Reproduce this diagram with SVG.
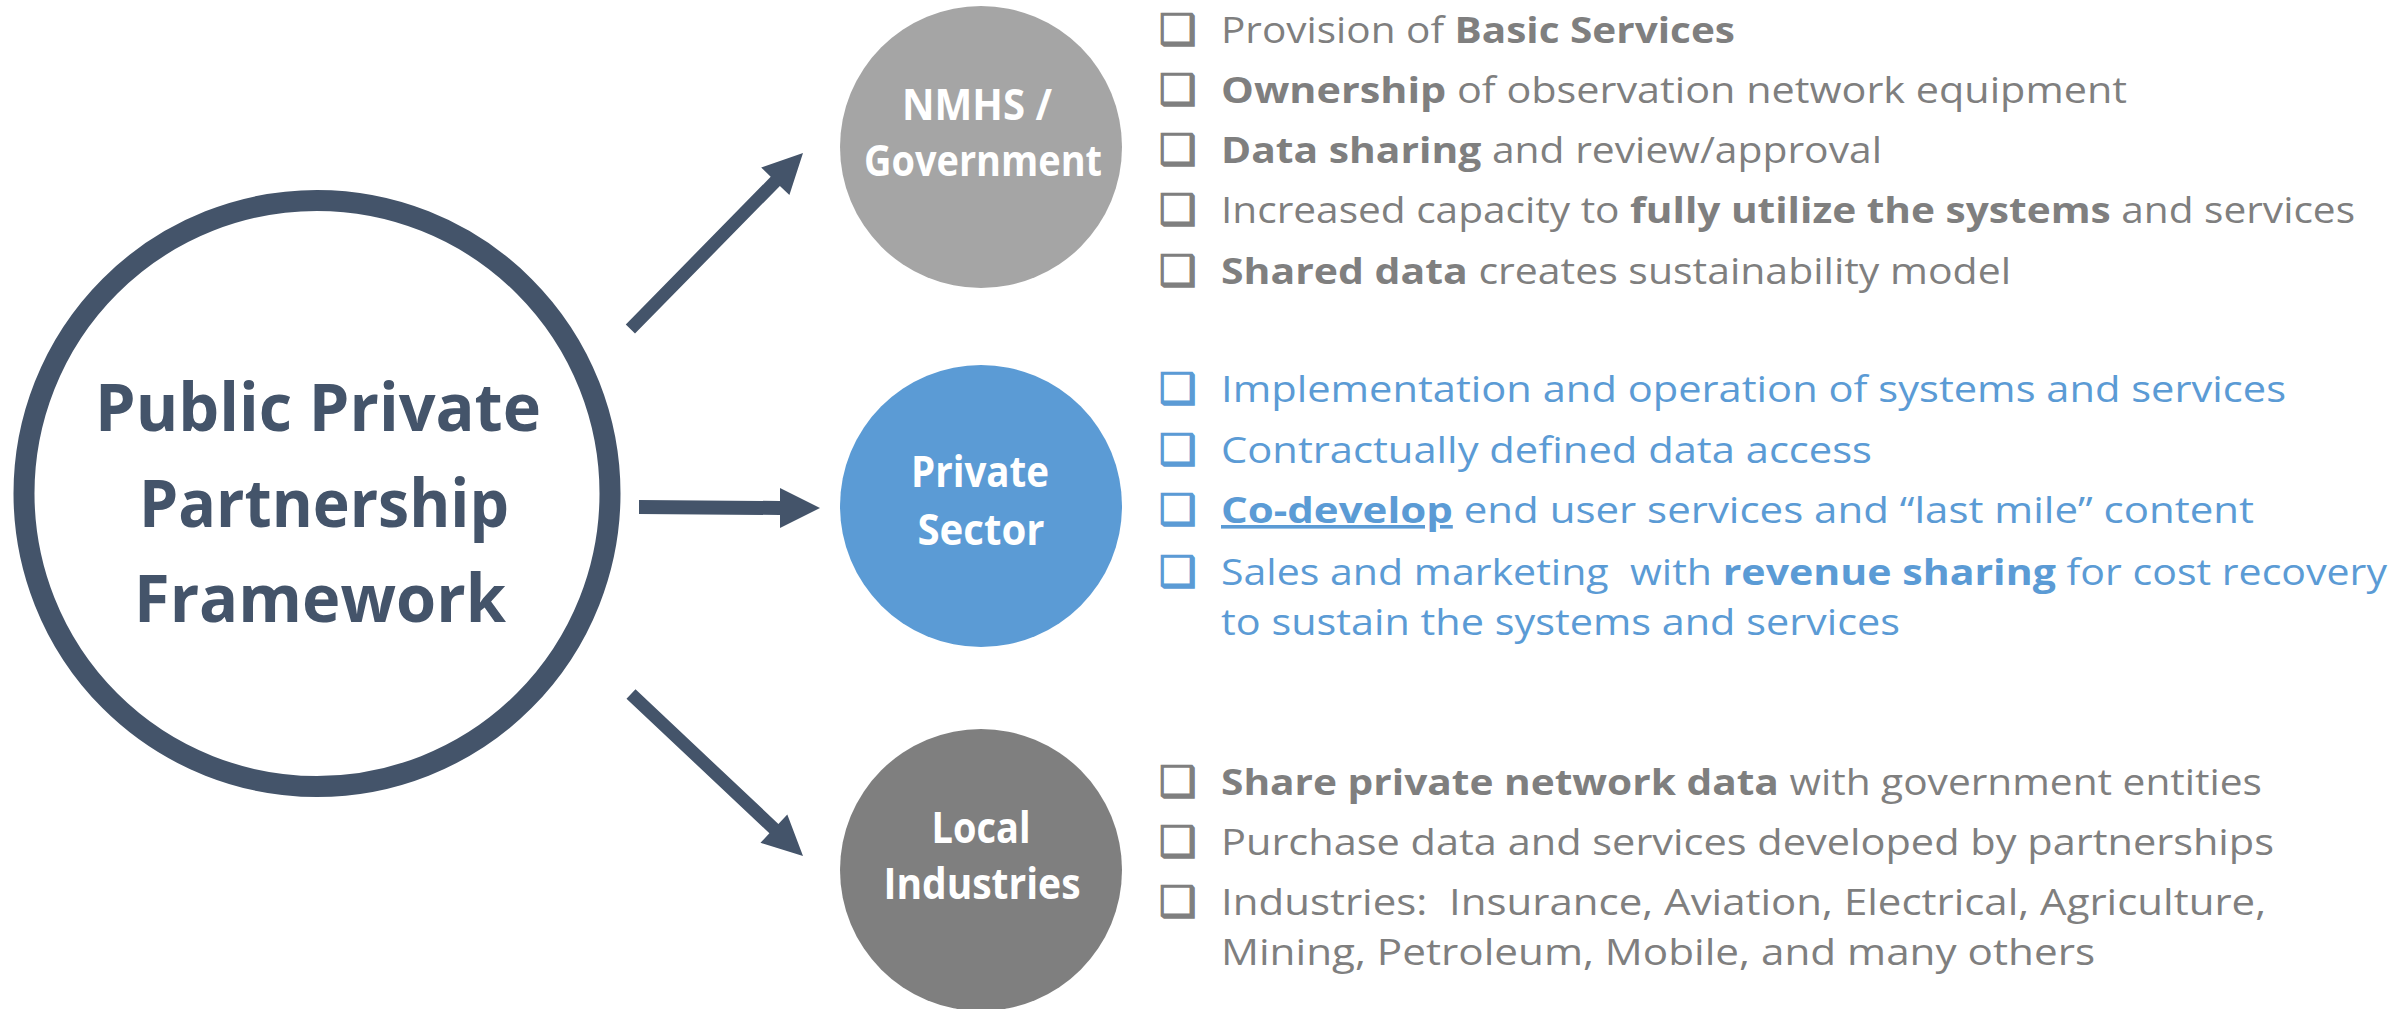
<svg xmlns="http://www.w3.org/2000/svg" width="2408" height="1009" viewBox="0 0 2408 1009">
<style>
  .title { font-family: "Open Sans", "Liberation Sans", sans-serif; font-weight: 700; font-size: 67px; fill: #44546A; text-anchor: middle; }
  .ntxt { font-family: "Open Sans", "Liberation Sans", sans-serif; font-weight: 700; font-size: 43px; fill: #FFFFFF; text-anchor: middle; }
  .item { font-family: "Open Sans", "Liberation Sans", sans-serif; font-size: 36px; }
  .gray { fill: #7F7F7F; }
  .blue { fill: #5B9BD5; }
  .bold { font-weight: 700; }
  .box { font-family: "DejaVu Sans", sans-serif; font-size: 42px; font-weight: 700; stroke-width: 1.4px; }
  .box.gray { stroke: #7F7F7F; }
  .box.blue { stroke: #5B9BD5; }
  .arrow { fill: #44546A; }
</style>
<rect x="0" y="0" width="2408" height="1009" fill="#FFFFFF"/>

<g id="connectors">
  <polygon class="arrow" points="625.8,324.4 770.7,176.8 761.2,167.5 803,153 789.4,195.1 779.9,185.9 635,333.6"/>
  <polygon class="arrow" points="639,500 780,501 780,488 820,508 780,528 780,515 639,514"/>
  <polygon class="arrow" points="626.5,698.7 769.4,833.3 760.5,842.8 803,856 787.3,814.4 778.4,823.9 635.5,689.3"/>
</g>

<g id="node-ppp">
  <circle cx="317" cy="493.5" r="293" fill="#FFFFFF" stroke="#44546A" stroke-width="21"/>
  <text class="title" x="318" y="431" textLength="446" lengthAdjust="spacingAndGlyphs">Public Private</text>
  <text class="title" x="324" y="527" textLength="370" lengthAdjust="spacingAndGlyphs">Partnership</text>
  <text class="title" x="320" y="622" textLength="372" lengthAdjust="spacingAndGlyphs">Framework</text>
</g>

<g id="node-nmhs">
  <circle cx="981" cy="147" r="141" fill="#A5A5A5"/>
  <text class="ntxt" x="977" y="120" textLength="150" lengthAdjust="spacingAndGlyphs">NMHS /</text>
  <text class="ntxt" x="983" y="176" textLength="238" lengthAdjust="spacingAndGlyphs">Government</text>
</g>

<g id="node-private">
  <circle cx="981" cy="506" r="141" fill="#5B9BD5"/>
  <text class="ntxt" x="980" y="487" textLength="138" lengthAdjust="spacingAndGlyphs">Private</text>
  <text class="ntxt" x="981" y="545" textLength="127" lengthAdjust="spacingAndGlyphs">Sector</text>
</g>

<g id="node-local">
  <circle cx="981" cy="870" r="141" fill="#7F7F7F"/>
  <text class="ntxt" x="981" y="843" textLength="99" lengthAdjust="spacingAndGlyphs">Local</text>
  <text class="ntxt" x="982" y="899" textLength="197" lengthAdjust="spacingAndGlyphs">Industries</text>
</g>

<g id="list-nmhs">
  <text class="box gray" x="1159" y="44">❑</text>
  <text class="item gray" x="1221" y="43" textLength="514" lengthAdjust="spacingAndGlyphs">Provision of <tspan class="bold">Basic Services</tspan></text>
  <text class="box gray" x="1159" y="104">❑</text>
  <text class="item gray" x="1221" y="103" textLength="906" lengthAdjust="spacingAndGlyphs"><tspan class="bold">Ownership</tspan> of observation network equipment</text>
  <text class="box gray" x="1159" y="164">❑</text>
  <text class="item gray" x="1221" y="163" textLength="661" lengthAdjust="spacingAndGlyphs"><tspan class="bold">Data sharing</tspan> and review/approval</text>
  <text class="box gray" x="1159" y="224">❑</text>
  <text class="item gray" x="1221" y="223" textLength="1134" lengthAdjust="spacingAndGlyphs">Increased capacity to <tspan class="bold">fully utilize the systems</tspan> and services</text>
  <text class="box gray" x="1159" y="285">❑</text>
  <text class="item gray" x="1221" y="284" textLength="790" lengthAdjust="spacingAndGlyphs"><tspan class="bold">Shared data</tspan> creates sustainability model</text>
</g>

<g id="list-private">
  <text class="box blue" x="1159" y="403">❑</text>
  <text class="item blue" x="1221" y="402" textLength="1065" lengthAdjust="spacingAndGlyphs">Implementation and operation of systems and services</text>
  <text class="box blue" x="1159" y="464">❑</text>
  <text class="item blue" x="1221" y="463" textLength="651" lengthAdjust="spacingAndGlyphs">Contractually defined data access</text>
  <text class="box blue" x="1159" y="524">❑</text>
  <text class="item blue" x="1221" y="523" textLength="1033" lengthAdjust="spacingAndGlyphs"><tspan class="bold" text-decoration="underline">Co-develop</tspan> end user services and “last mile” content</text>
  <text class="box blue" x="1159" y="586">❑</text>
  <text class="item blue" x="1221" y="585" textLength="1166" lengthAdjust="spacingAndGlyphs">Sales and marketing&#160; with <tspan class="bold">revenue sharing</tspan> for cost recovery</text>
  <text class="item blue" x="1221" y="635" textLength="679" lengthAdjust="spacingAndGlyphs">to sustain the systems and services</text>
</g>

<g id="list-local">
  <text class="box gray" x="1159" y="796">❑</text>
  <text class="item gray" x="1221" y="795" textLength="1041" lengthAdjust="spacingAndGlyphs"><tspan class="bold">Share private network data</tspan> with government entities</text>
  <text class="box gray" x="1159" y="856">❑</text>
  <text class="item gray" x="1221" y="855" textLength="1053" lengthAdjust="spacingAndGlyphs">Purchase data and services developed by partnerships</text>
  <text class="box gray" x="1159" y="916">❑</text>
  <text class="item gray" x="1221" y="915" textLength="1045" lengthAdjust="spacingAndGlyphs">Industries:&#160; Insurance, Aviation, Electrical, Agriculture,</text>
  <text class="item gray" x="1221" y="965" textLength="874" lengthAdjust="spacingAndGlyphs">Mining, Petroleum, Mobile, and many others</text>
</g>
</svg>
